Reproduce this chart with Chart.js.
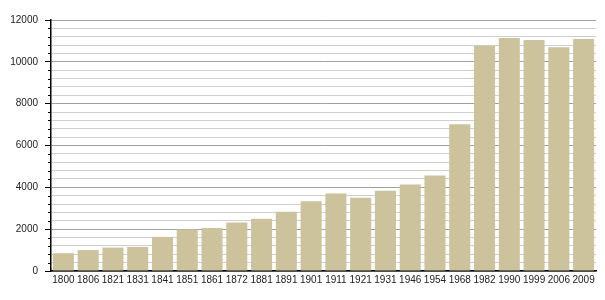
<!DOCTYPE html>
<html>
<head>
<meta charset="utf-8">
<script src="https://cdn.jsdelivr.net/npm/chart.js@4/dist/chart.umd.min.js"></script>
<style>
  html, body { margin: 0; padding: 0; background: #fff; }
  #wrap { width: 605px; height: 300px; }
</style>
</head>
<body>
<div id="wrap"><canvas id="c"></canvas></div>
<script>
const years = ['1800', '1806', '1821', '1831', '1841', '1851', '1861', '1872', '1881', '1891', '1901',
               '1911', '1921', '1931', '1946', '1954', '1968', '1982', '1990', '1999', '2006', '2009'];
const population = [850, 1000, 1120, 1150, 1630, 1990, 2060, 2320, 2500, 2830, 3330,
                    3700, 3500, 3840, 4130, 4560, 7010, 10770, 11140, 11040, 10700, 11090];

// short ticks for the minor grid lines
const minorTicks = {
    id: 'minorTicks',
    afterDraw(chart) {
        const y = chart.scales.y;
        const ctx = chart.ctx;
        ctx.save();
        ctx.strokeStyle = '#000';
        ctx.lineWidth = 1;
        y.ticks.forEach(t => {
            if (t.value % 2000 === 0) return;
            const py = Math.round(y.getPixelForValue(t.value)) + 0.5;
            ctx.beginPath();
            ctx.moveTo(y.right - 3, py);
            ctx.lineTo(y.right, py);
            ctx.stroke();
        });
        ctx.restore();
    }
};

new Chart(document.getElementById('c'), {
    type: 'bar',
    data: {
        labels: years,
        datasets: [{
            data: population,
            backgroundColor: '#ccc29c',
            barPercentage: 0.85,
            categoryPercentage: 1
        }]
    },
    options: {
        responsive: true,
        maintainAspectRatio: false,
        animation: false,
        layout: { padding: { top: 20, right: 9, left: 0, bottom: 0 } },
        plugins: { legend: { display: false }, tooltip: { enabled: false } },
        scales: {
            x: {
                grid: { display: false, drawTicks: false, tickLength: 0 },
                border: { color: '#000', width: 1.5 },
                ticks: {
                    color: '#222',
                    font: { family: 'Liberation Sans', size: 10 },
                    maxRotation: 0,
                    autoSkip: false,
                    padding: 3
                },
                afterFit(s) { s.height = 29; }
            },
            y: {
                min: 0,
                max: 12000,
                border: { color: '#000', width: 1.5 },
                grid: {
                    color: c => c.tick.value % 2000 === 0 ? '#a0a0a0' : '#cfcfcf',
                    tickColor: c => c.tick.value % 2000 === 0 ? '#000' : 'rgba(0,0,0,0)',
                    tickLength: 6
                },
                ticks: {
                    stepSize: 400,
                    autoSkip: false,
                    color: '#222',
                    font: { family: 'Liberation Sans', size: 10 },
                    padding: 7,
                    callback: v => v % 2000 === 0 ? v : ''
                },
                afterFit(s) { s.width = 51; }
            }
        }
    },
    plugins: [minorTicks]
});
</script>
</body>
</html>
